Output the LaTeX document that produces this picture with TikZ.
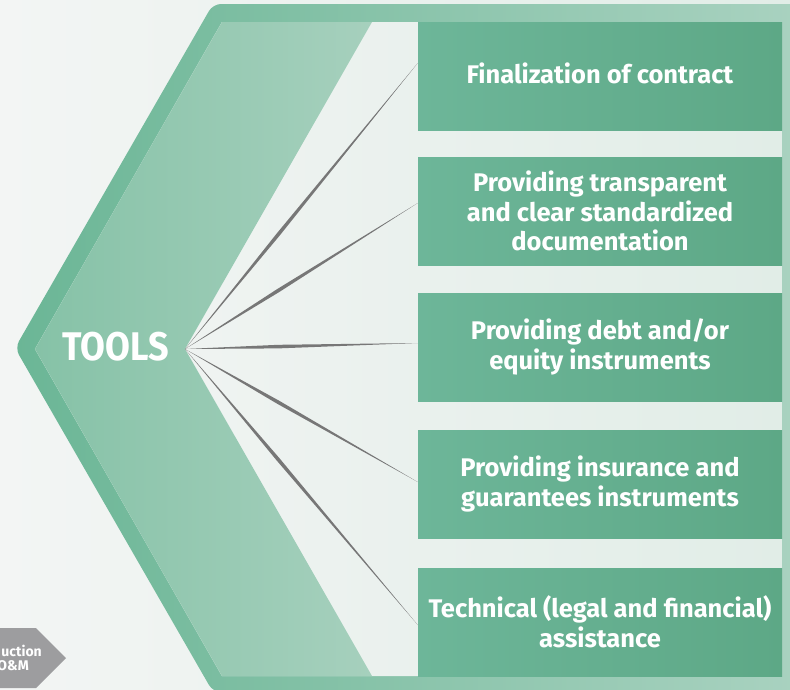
\documentclass[tikz,border=0pt]{standalone}
\usepackage{fontspec}
\setmainfont{Fira Sans}
\newfontfamily\narrowfont{Fira Sans}[FakeStretch=0.9]
\usetikzlibrary{calc}

\definecolor{bglight}{HTML}{F3F5F4}
\definecolor{bgmint}{HTML}{E1EDE7}
\definecolor{framedark}{HTML}{6BB696}
\definecolor{framelight}{HTML}{A9D2C0}
\definecolor{banddark}{HTML}{86C2A7}
\definecolor{bandlight}{HTML}{A6D0BD}
\definecolor{boxleft}{HTML}{6DB699}
\definecolor{boxright}{HTML}{5DA886}
\definecolor{needlegray}{HTML}{777777}
\definecolor{tabgray}{HTML}{9D9D9F}

\newcommand{\needle}[2]{\fill[needle] (#1) -- ($(#1)!0.4!(#2)!1.8pt!90:(#2)$) -- (#2) -- ($(#1)!0.4!(#2)!1.8pt!-90:(#2)$) -- cycle;}

\begin{document}
\begin{tikzpicture}[x=1pt, y=-1pt,
    toolbox/.style={minimum width=364pt, minimum height=108pt, inner sep=0pt, left color=boxleft, right color=boxright, text=white, align=center, font=\bfseries\fontsize{25.5}{29.5}\selectfont},
    tabtext/.style={text=white, inner sep=0pt, font=\bfseries\fontsize{14}{14}\selectfont},
    needle/.style={fill=needlegray}]
    \useasboundingbox (0,0) rectangle (790,689);
    % background and frame
    \shade[left color=bglight, right color=bgmint] (0,0) rectangle (790,689);
    \shade[left color=framedark, right color=framelight, rounded corners=8pt] (213,4) -- (800,4) -- (800,700) -- (213,692) -- (15,348) -- cycle;
    \shade[left color=bglight, right color=bgmint] (222,22) -- (782,22) -- (782,676) -- (222,676) -- (35,349) -- cycle;
    \shade[left color=banddark, right color=bandlight] (222,22) -- (372,22) -- (185,349) -- (372,676) -- (222,676) -- (35,349) -- cycle;
    % gray tab, bottom left
    \fill[tabgray] (0,628) -- (36,628) -- (66,658) -- (36,688) -- (0,688) -- cycle;
    \node[tabtext, anchor=base east] (tabtop) at (42,656) {uction};
    \node[tabtext, anchor=base east] (tabbot) at (29,670) {O\&M};
    % title and boxes
    \node[text=white, font=\narrowfont\bfseries\fontsize{40}{40}\selectfont] (tools) at (116,347) {TOOLS};
    \coordinate (apex) at (185,349);
    \node[toolbox] (b1) at (600,76) {\raisebox{6pt}{Finalization of contract}};
    \node[toolbox] (b2) at (600,211) {Providing transparent\\and clear standardized\\documentation};
    \node[toolbox] (b3) at (600,347) {Providing debt and/or\\equity instruments};
    \node[toolbox] (b4) at (600,484) {Providing insurance and\\guarantees instruments};
    \node[toolbox] (b5) at (600,622) {Technical (legal and financial)\\assistance};
    % needles
    \foreach \i/\s in {1/13, 2/8, 3/4, 4/2, 5/-3} {
        \coordinate (e\i) at ([yshift=\s pt]b\i.west);
        \needle{apex}{e\i}
    }
\end{tikzpicture}
\end{document}
